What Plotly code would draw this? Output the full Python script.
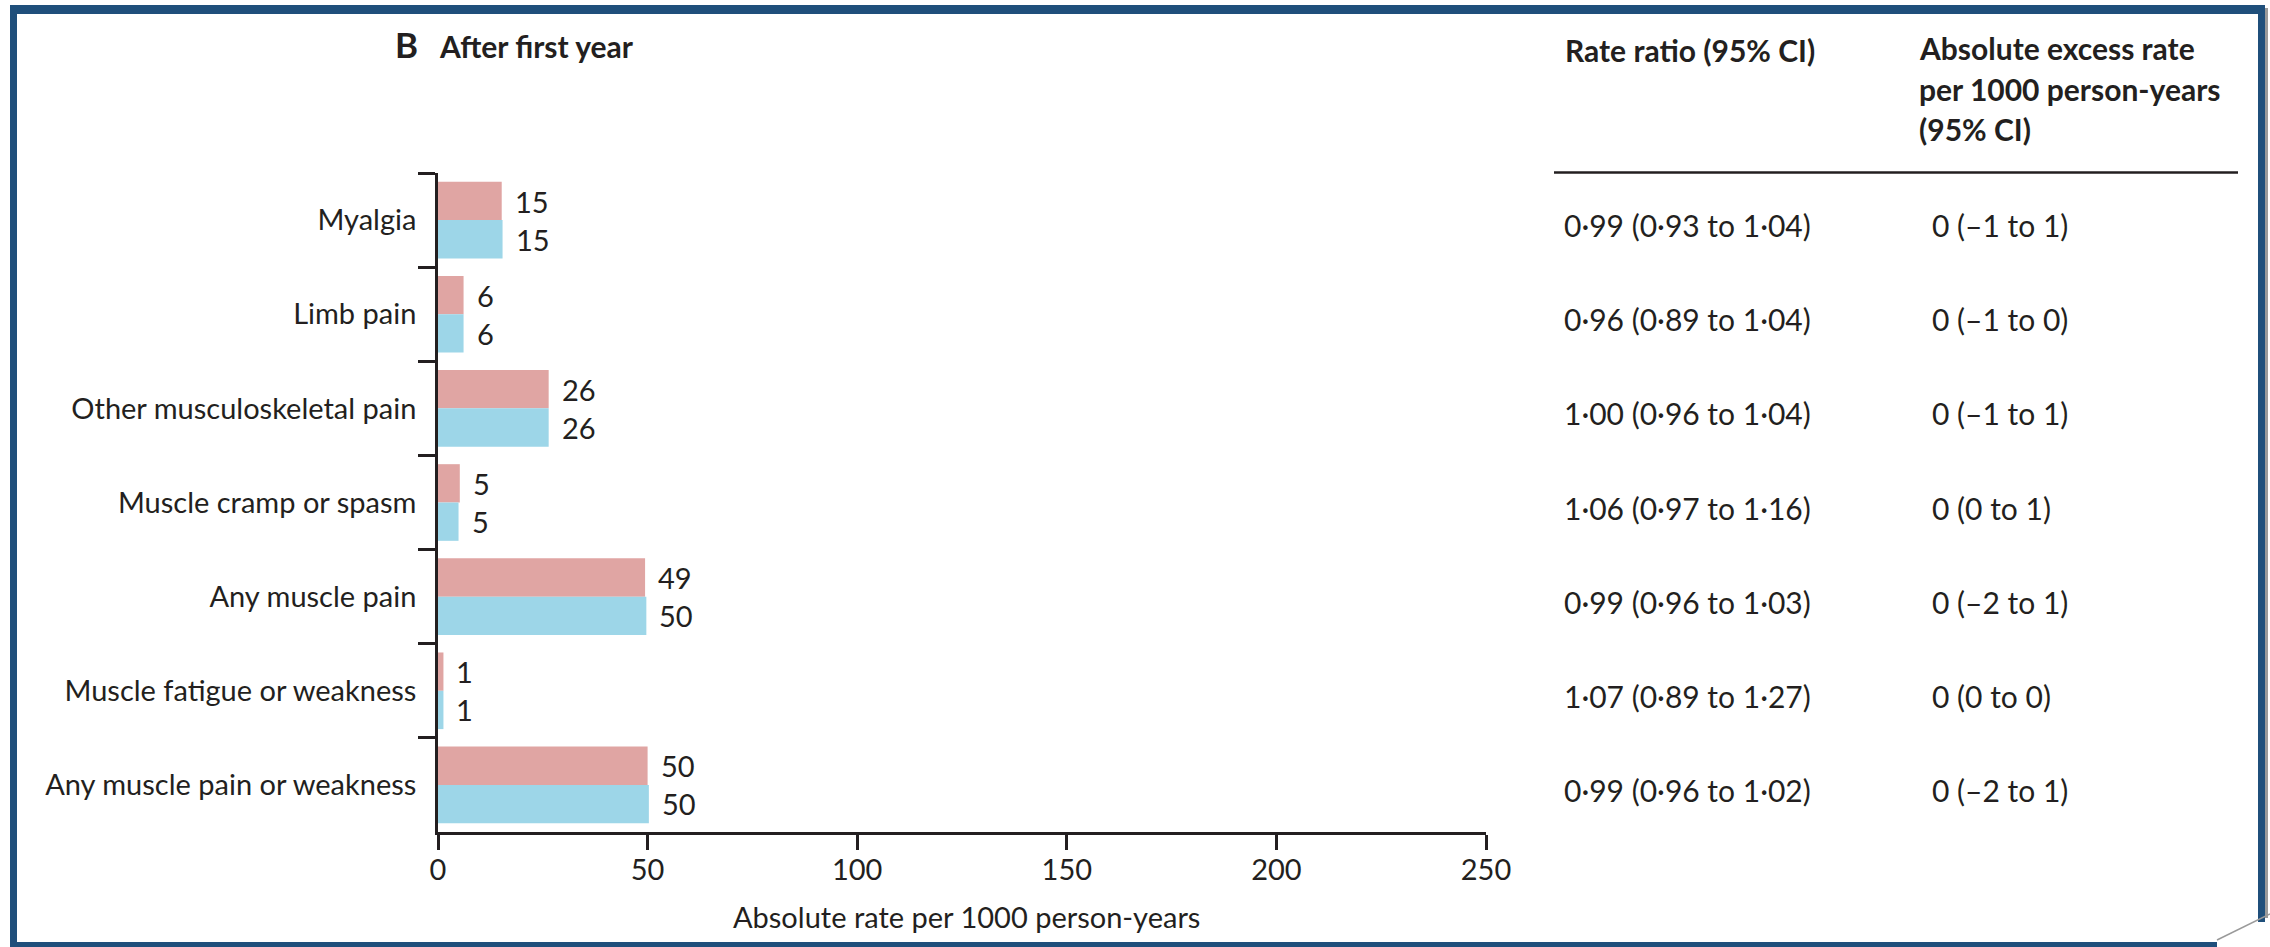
import plotly.graph_objects as go

# ---------------- data ----------------
categories = [
    "Myalgia",
    "Limb pain",
    "Other musculoskeletal pain",
    "Muscle cramp or spasm",
    "Any muscle pain",
    "Muscle fatigue or weakness",
    "Any muscle pain or weakness",
]
statin_rate = [15.2, 6.1, 26.4, 5.2, 49.4, 1.3, 50.0]
placebo_rate = [15.4, 6.1, 26.4, 4.9, 49.7, 1.3, 50.3]
statin_labels = ["15", "6", "26", "5", "49", "1", "50"]
placebo_labels = ["15", "6", "26", "5", "50", "1", "50"]
rate_ratio = [
    "0·99 (0·93 to 1·04)",
    "0·96 (0·89 to 1·04)",
    "1·00 (0·96 to 1·04)",
    "1·06 (0·97 to 1·16)",
    "0·99 (0·96 to 1·03)",
    "1·07 (0·89 to 1·27)",
    "0·99 (0·96 to 1·02)",
]
abs_excess = [
    "0 (–1 to 1)",
    "0 (–1 to 0)",
    "0 (–1 to 1)",
    "0 (0 to 1)",
    "0 (–2 to 1)",
    "0 (0 to 0)",
    "0 (–2 to 1)",
]
x_ticks = [0, 50, 100, 150, 200, 250]

# ---------------- style ----------------
W, H = 2270, 947
ML, MR, MT, MB = 438, 784, 173, 115
PW, PH = W - ML - MR, H - MT - MB
FONT = "Lato"
INK = "#231f20"
RED = "#e0a5a3"
BLUE = "#9dd6e8"
FRAME = "#1f4f7b"


def fx(px):
    return (px - ML) / PW


def fy(py):
    return (H - MB - py) / PH


fig = go.Figure()
fig.add_trace(go.Bar(
    y=categories, x=statin_rate, orientation="h", name="Statin",
    marker=dict(color=RED, line=dict(width=0)),
))
fig.add_trace(go.Bar(
    y=categories, x=placebo_rate, orientation="h", name="Placebo",
    marker=dict(color=BLUE, line=dict(width=0)),
))

ann = []
# bar value labels
for cat, v, lab in zip(categories, statin_rate, statin_labels):
    ann.append(dict(x=v, y=cat, xref="x", yref="y", text=lab, showarrow=False,
                    xanchor="left", yanchor="middle", xshift=11, yshift=19,
                    font=dict(family=FONT, size=29, color=INK)))
for cat, v, lab in zip(categories, placebo_rate, placebo_labels):
    ann.append(dict(x=v, y=cat, xref="x", yref="y", text=lab, showarrow=False,
                    xanchor="left", yanchor="middle", xshift=11, yshift=-19,
                    font=dict(family=FONT, size=29, color=INK)))
# table columns
for cat, rr, ae in zip(categories, rate_ratio, abs_excess):
    ann.append(dict(x=fx(1562), y=cat, xref="paper", yref="y", text=rr, showarrow=False,
                    xanchor="left", yanchor="middle", yshift=-5,
                    font=dict(family=FONT, size=30, color=INK)))
    ann.append(dict(x=fx(1930), y=cat, xref="paper", yref="y", text=ae, showarrow=False,
                    xanchor="left", yanchor="middle", yshift=-5,
                    font=dict(family=FONT, size=30, color=INK)))

# headers
ann.append(dict(x=fx(393), y=fy(44), xref="paper", yref="paper", text="<b>B</b>",
                showarrow=False, xanchor="left", yanchor="middle",
                font=dict(family=FONT, size=35, color=INK)))
ann.append(dict(x=fx(437), y=fy(46), xref="paper", yref="paper", text="<b>After first year</b>",
                showarrow=False, xanchor="left", yanchor="middle",
                font=dict(family=FONT, size=30, color=INK)))
ann.append(dict(x=fx(1563), y=fy(50), xref="paper", yref="paper", text="<b>Rate ratio (95% CI)</b>",
                showarrow=False, xanchor="left", yanchor="middle",
                font=dict(family=FONT, size=30, color=INK)))
for i, line in enumerate(["Absolute excess rate", "per 1000 person-years", "(95% CI)"]):
    ann.append(dict(x=fx(1917), y=fy(48 + 40.7 * i), xref="paper", yref="paper",
                    text="<b>" + line + "</b>", showarrow=False, xanchor="left", yanchor="middle",
                    font=dict(family=FONT, size=30, color=INK)))
# x-axis title
ann.append(dict(x=fx(966), y=fy(916), xref="paper", yref="paper",
                text="Absolute rate per 1000 person-years", showarrow=False,
                xanchor="center", yanchor="middle",
                font=dict(family=FONT, size=29, color=INK)))

shapes = []
# header rule
shapes.append(dict(type="line", xref="paper", yref="paper", x0=fx(1554), x1=fx(2238),
                   y0=fy(172.5), y1=fy(172.5), line=dict(color=INK, width=2.7)))
# frame
for (x0, y0, x1, y1, c) in [
    (10, 5, 2265, 14, FRAME),
    (10, 5, 17, 947, FRAME),
    (2258, 5, 2265, 922, FRAME),
    (10, 942, 2217, 947, FRAME),
    (2265, 8, 2268, 918, "#9a9a9a"),
]:
    shapes.append(dict(type="rect", xref="paper", yref="paper", x0=fx(x0), x1=fx(x1),
                       y0=fy(y0), y1=fy(y1), fillcolor=c, line=dict(width=0), layer="above"))
shapes.append(dict(type="line", xref="paper", yref="paper", x0=fx(2217), y0=fy(940),
                   x1=fx(2270), y1=fy(914), line=dict(color="#9a9a9a", width=1.5)))

fig.update_layout(
    width=W, height=H,
    margin=dict(l=ML, r=MR, t=MT, b=MB, autoexpand=False),
    paper_bgcolor="white", plot_bgcolor="white",
    barmode="group", bargap=0.186, bargroupgap=0,
    showlegend=False,
    font=dict(family=FONT, size=29, color=INK),
    annotations=ann, shapes=shapes,
    xaxis=dict(
        range=[0, 250], tickvals=x_ticks, ticktext=[str(t) for t in x_ticks],
        showline=True, linecolor=INK, linewidth=2.7,
        ticks="outside", ticklen=15, tickwidth=2.5, tickcolor=INK,
        showgrid=False, zeroline=False, fixedrange=True,
        tickfont=dict(family=FONT, size=29, color=INK),
        ticklabelstandoff=-5,
    ),
    yaxis=dict(
        type="category", categoryorder="array", categoryarray=categories,
        autorange="reversed",
        showline=True, linecolor=INK, linewidth=2.7,
        ticks="outside", ticklen=17, tickwidth=2.5, tickcolor=INK,
        tickson="boundaries", showgrid=False, zeroline=False,
        tickfont=dict(family=FONT, size=29, color=INK),
        ticklabelstandoff=13,
    ),
)

fig.write_html("out.html", config={"displayModeBar": False},
               post_script="document.body.style.margin='0';document.body.style.overflow='hidden';")
